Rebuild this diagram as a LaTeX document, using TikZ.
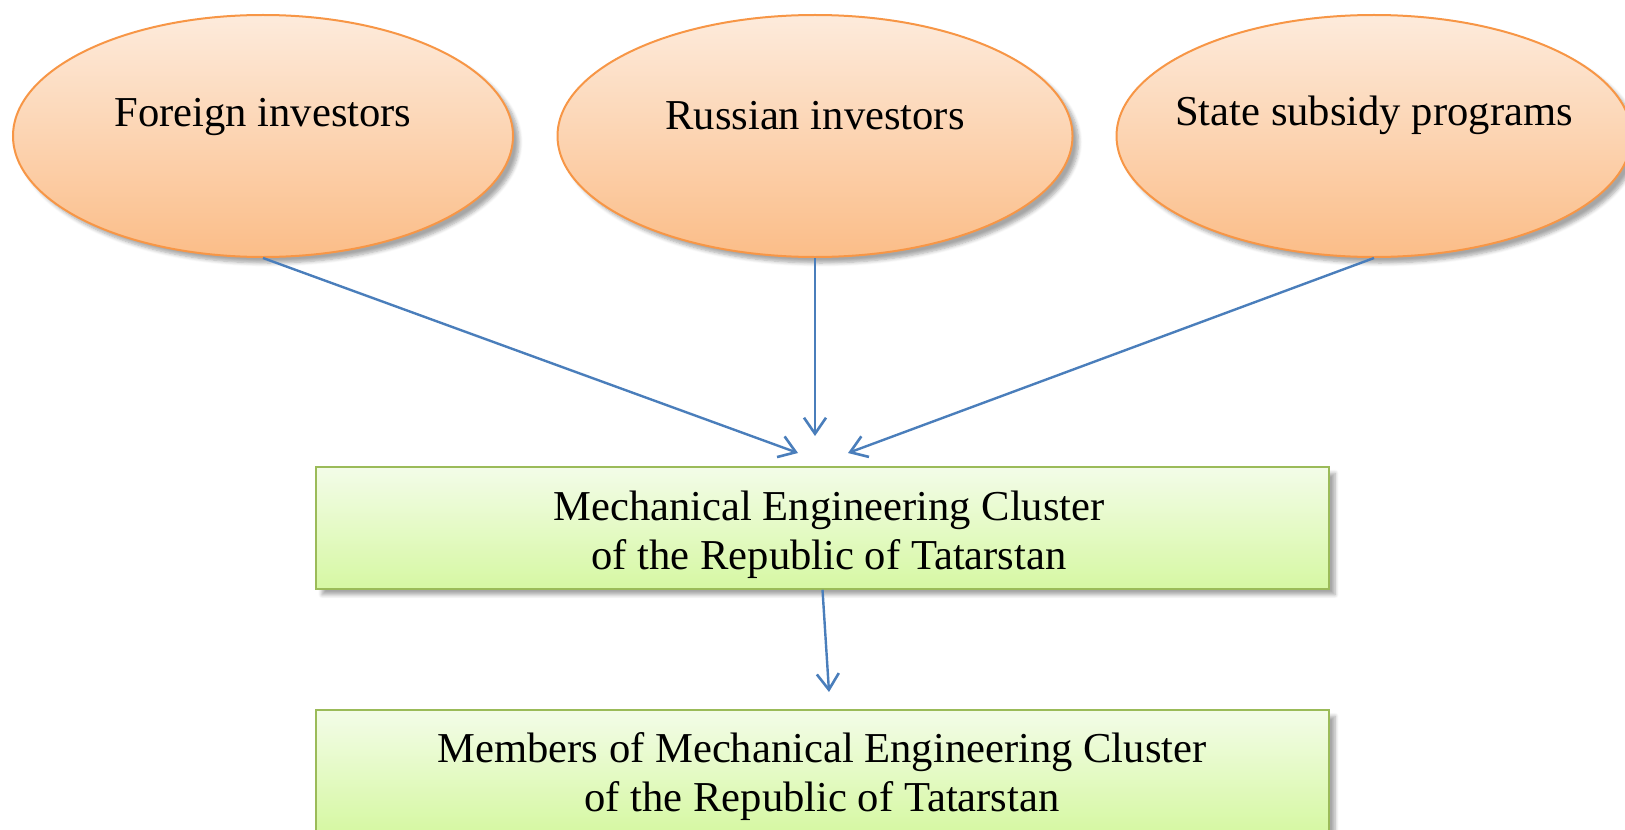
\documentclass[tikz,border=0pt]{standalone}
\usepackage{fontspec}
\setmainfont{Liberation Serif}
\usetikzlibrary{arrows.meta,shadows.blur,shapes.geometric}
\definecolor{ellborder}{HTML}{F79646}
\definecolor{elltop}{HTML}{FDEBDC}
\definecolor{ellbot}{HTML}{FBBD88}
\definecolor{boxborder}{HTML}{9BBB59}
\definecolor{boxtop}{HTML}{F3FCE8}
\definecolor{boxbot}{HTML}{D6F8A3}
\definecolor{arrowblue}{HTML}{4A7EBB}
\tikzset{
  ell/.style={ellipse, draw=ellborder, line width=1pt, top color=elltop, bottom color=ellbot,
    inner sep=0pt, blur shadow={shadow xshift=3pt, shadow yshift=-3pt, shadow blur steps=6, shadow opacity=35}},
  ellbox/.style={rectangle, draw=boxborder, line width=1pt, top color=boxtop, bottom color=boxbot,
    inner sep=0pt, minimum width=506.5pt, minimum height=60.75pt,
    blur shadow={shadow xshift=3pt, shadow yshift=-3pt, shadow blur steps=6, shadow opacity=35}},
  lbl/.style={font=\fontsize{21.3pt}{24.5pt}\selectfont, align=center, inner sep=0pt},
  conn/.style={draw=arrowblue, line width=1.2pt, -{Straight Barb[length=8pt,width=11pt,line width=1.3pt]}}
}
\begin{document}
\begin{tikzpicture}[x=0.5pt,y=-0.5pt]
\useasboundingbox (0,0) rectangle (1625,829);
\clip (0,0) rectangle (1625,829);
\node[ell, minimum width=250pt, minimum height=121pt] (e1) at (263,136) {};
\node[ell, minimum width=257.5pt, minimum height=121pt] (e2) at (815,136) {};
\node[ell, minimum width=257.5pt, minimum height=121pt] (e3) at (1374,136) {};
\node[lbl] (t1) at (263,117) {Foreign investors};
\node[lbl] (t2) at (815,116) {Russian investors};
\node[lbl] (t3) at (1374,115) {State subsidy programs};
\node[ellbox] (b1) at (822.5,528) {};
\node[lbl] (bt1) at (829,535) {Mechanical Engineering Cluster\\of the Republic of Tatarstan};
\node[ellbox] (b2) at (822.5,771) {};
\node[lbl] (bt2) at (822,777) {Members of Mechanical Engineering Cluster\\of the Republic of Tatarstan};
\coordinate (a1) at (798,453);
\coordinate (a2) at (815,436);
\coordinate (a3) at (848,453);
\coordinate (a4) at (829,692);
\draw[conn] (e1.south) -- (a1);
\draw[conn] (e2.south) -- (a2);
\draw[conn] (e3.south) -- (a3);
\draw[conn] (b1.south) -- (a4);
\end{tikzpicture}
\end{document}
